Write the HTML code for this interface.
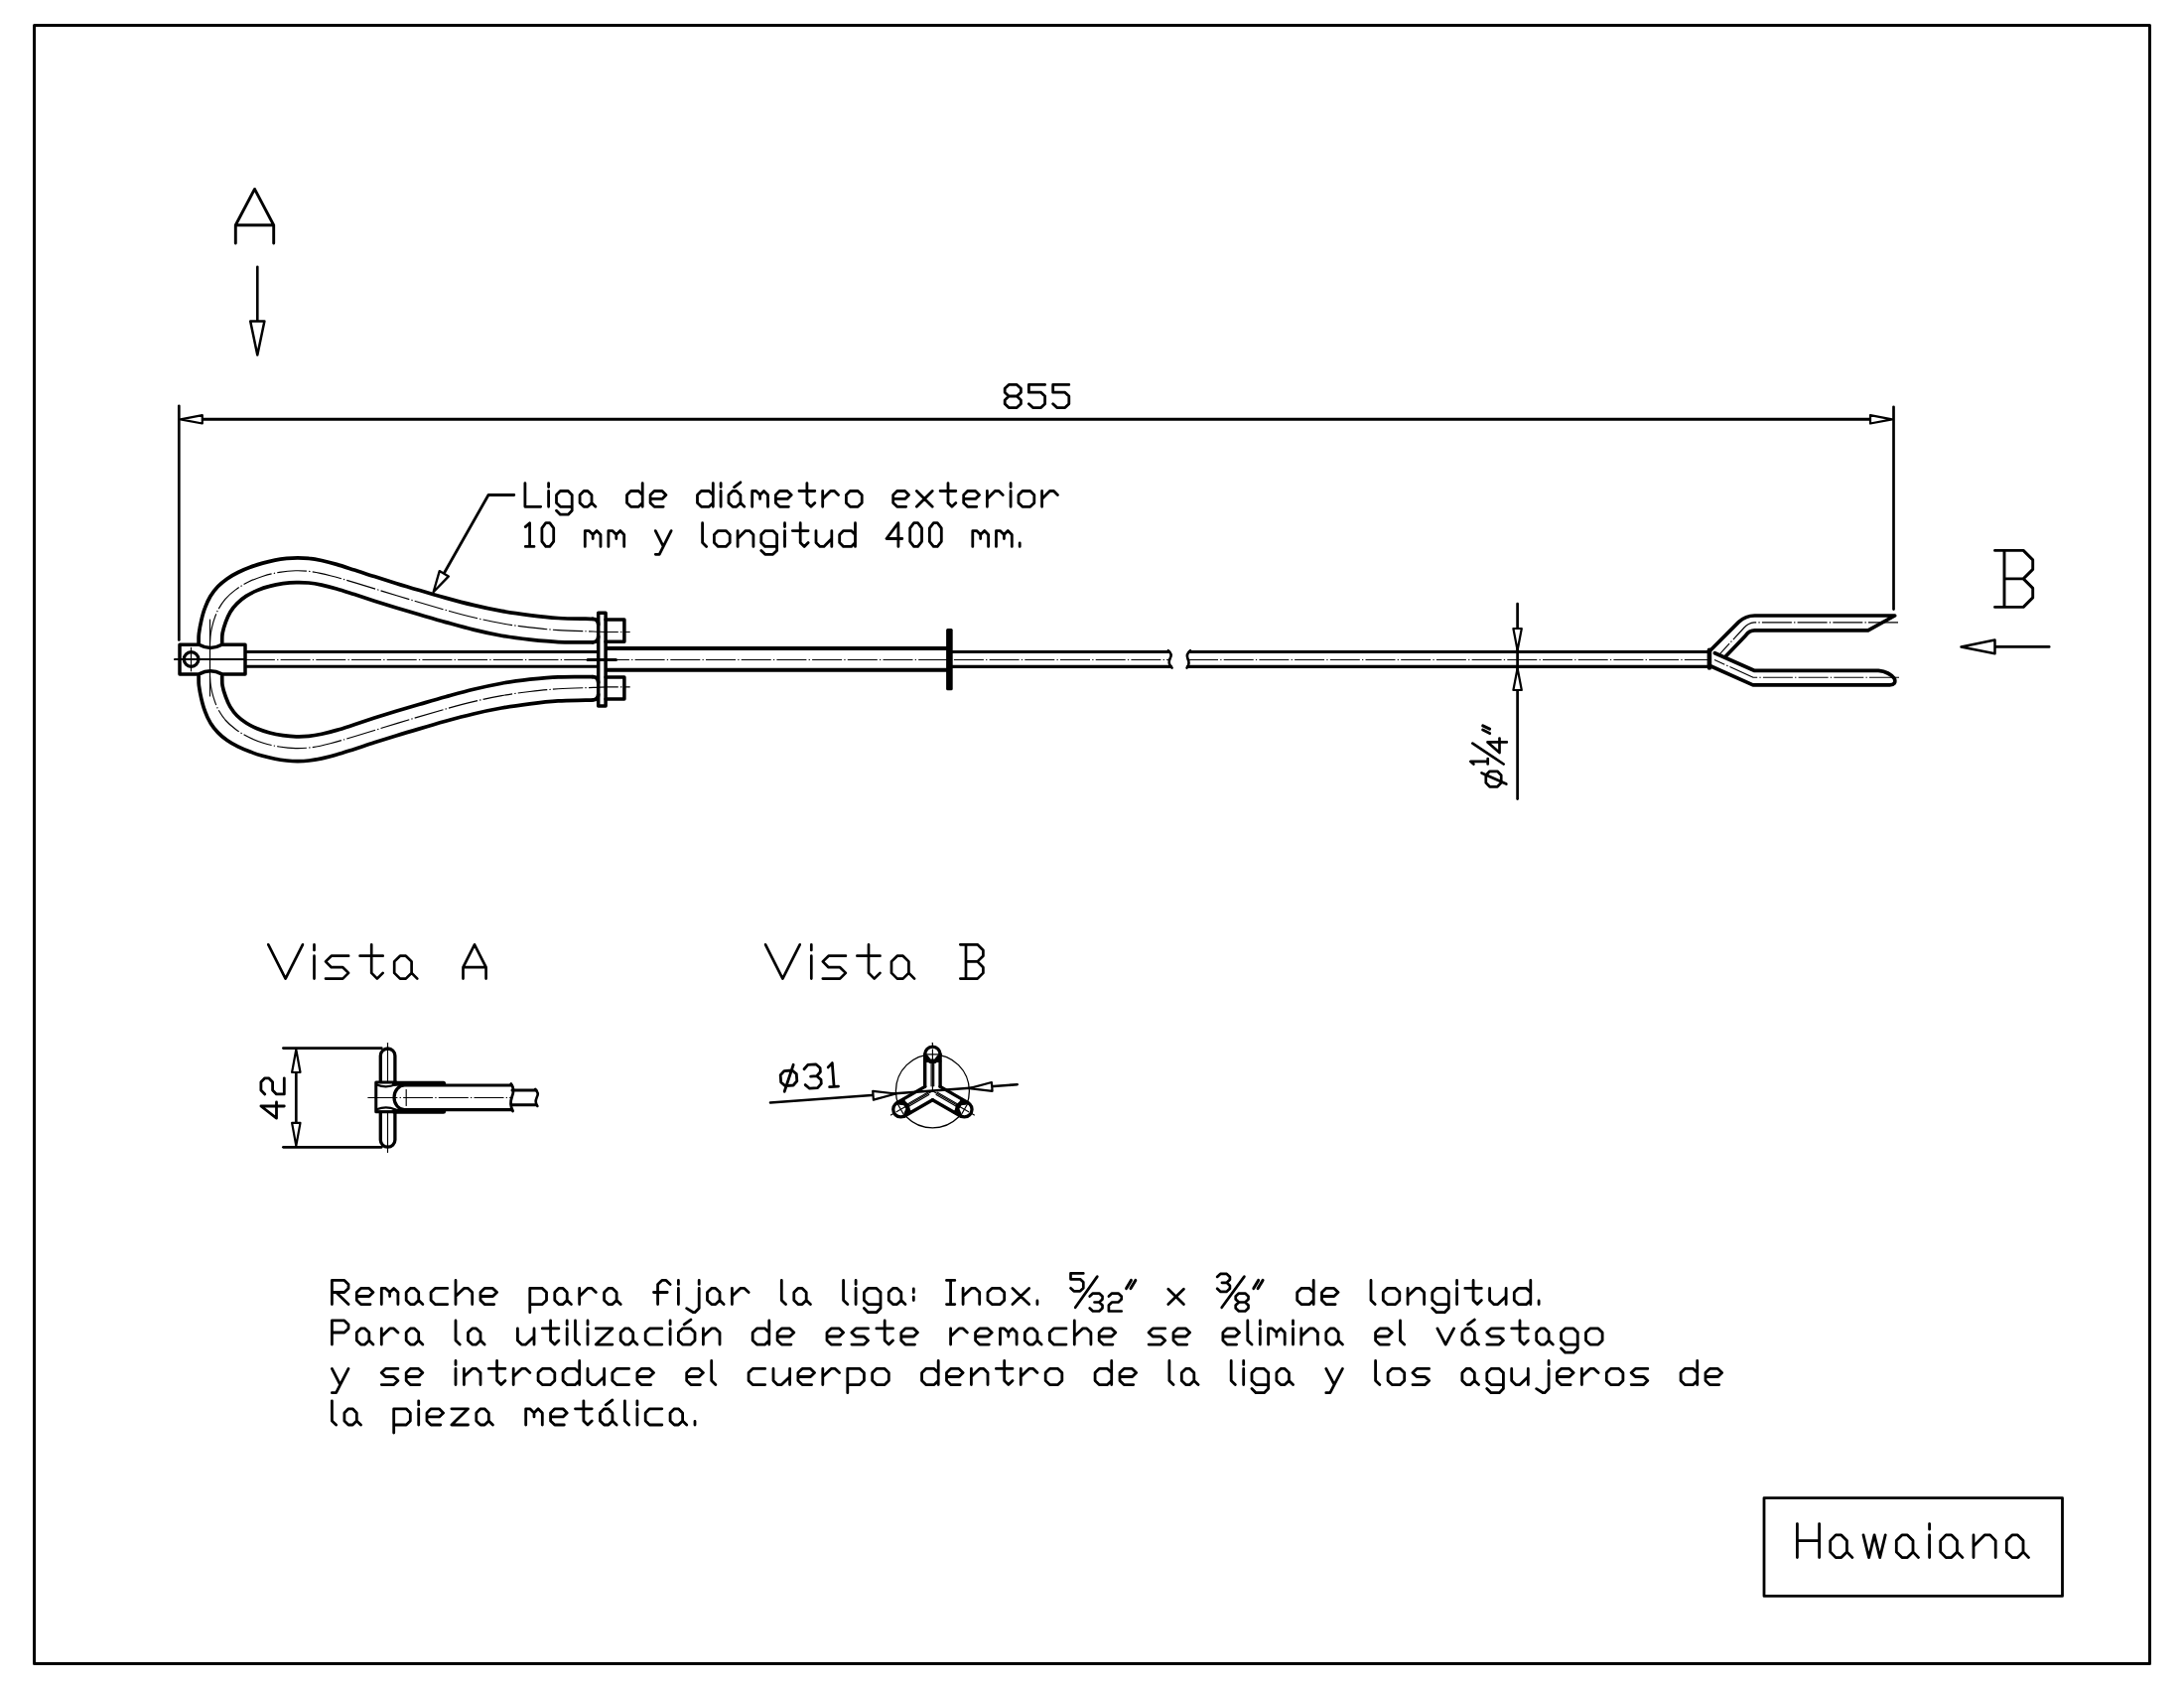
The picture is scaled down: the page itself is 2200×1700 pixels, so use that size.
<!DOCTYPE html>
<html><head><meta charset="utf-8"><title>Hawaiana</title>
<style>html,body{margin:0;padding:0;background:#fff;font-family:"Liberation Sans",sans-serif}svg{display:block}</style></head>
<body>
<svg width="2200" height="1700" viewBox="0 0 2200 1700" fill="none" stroke="#000" stroke-linecap="round" stroke-linejoin="round">
<rect x="34.5" y="25.5" width="2131" height="1650" stroke-width="3"/>
<rect x="1777" y="1508.6" width="300.5" height="98.8" stroke-width="2.8"/>
<path d="M1810.4 1568.6 L1810.4 1534.6M1832.6 1568.6 L1832.6 1534.6M1810.4 1551.6 L1832.6 1551.6M1849.2 1545.9 L1854.8 1545.9 L1860.4 1551.6 L1860.4 1562.9 L1854.8 1568.6 L1849.2 1568.6 L1843.7 1562.9 L1843.7 1551.6ZM1860.4 1562.9 L1865.9 1568.6M1877.0 1545.9 L1882.6 1568.6 L1888.1 1545.9 L1893.7 1568.6 L1899.2 1545.9M1915.9 1545.9 L1921.4 1545.9 L1927.0 1551.6 L1927.0 1562.9 L1921.4 1568.6 L1915.9 1568.6 L1910.3 1562.9 L1910.3 1551.6ZM1927.0 1562.9 L1932.5 1568.6M1943.6 1568.6 L1943.6 1545.9M1943.6 1540.2 L1943.6 1534.6M1960.2 1545.9 L1965.8 1545.9 L1971.4 1551.6 L1971.4 1562.9 L1965.8 1568.6 L1960.2 1568.6 L1954.7 1562.9 L1954.7 1551.6ZM1971.4 1562.9 L1976.9 1568.6M1988.0 1568.6 L1988.0 1545.9M1988.0 1557.3 L1999.1 1545.9 L2004.7 1545.9 L2010.2 1551.6 L2010.2 1568.6M2026.9 1545.9 L2032.4 1545.9 L2038.0 1551.6 L2038.0 1562.9 L2032.4 1568.6 L2026.9 1568.6 L2021.3 1562.9 L2021.3 1551.6ZM2038.0 1562.9 L2043.5 1568.6" stroke-width="2.80"/>
<path d="M237.3 245.0 L237.3 226.8 L256.5 190.4 L275.7 226.8 L275.7 245.0M237.3 226.8 L275.7 226.8" stroke-width="2.90"/>
<path d="M259.3 268.8 L259.3 323.0" stroke-width="2.60" />
<path d="M259.3 357.5 L252.2 323.5 L266.4 323.5 Z" stroke-width="2.50" fill="#fff"/>
<path d="M2009.5 554.4 L2038.2 554.4 L2047.7 563.9 L2047.7 573.4 L2038.2 582.9 L2047.7 592.4 L2047.7 601.9 L2038.2 611.4 L2009.5 611.4M2019.0 611.4 L2019.0 554.4M2019.0 582.9 L2038.2 582.9" stroke-width="2.90"/>
<path d="M2010.0 651.4 L2064.2 651.4" stroke-width="2.60" />
<path d="M1975.5 651.4 L2009.5 644.6 L2009.5 658.2 Z" stroke-width="2.50" fill="#fff"/>
<path d="M180.3 408.8 L180.3 644.5" stroke-width="2.70" />
<path d="M1907.5 409.8 L1907.5 613.6" stroke-width="2.70" />
<path d="M203.0 422.3 L1885.0 422.3" stroke-width="2.90" />
<path d="M181.8 422.3 L203.8 418.1 L203.8 426.5 Z" stroke-width="2.20" fill="#fff"/>
<path d="M1906.0 422.3 L1884.0 426.5 L1884.0 418.1 Z" stroke-width="2.20" fill="#fff"/>
<path d="M1016.2 399.0 L1012.2 395.2 L1012.2 391.3 L1016.2 387.4 L1024.3 387.4 L1028.4 391.3 L1028.4 395.2 L1024.3 399.0 L1016.2 399.0 L1012.2 402.9 L1012.2 406.7 L1016.2 410.6 L1024.3 410.6 L1028.4 406.7 L1028.4 402.9 L1024.3 399.0M1052.6 387.4 L1036.4 387.4 L1036.4 395.2 L1048.6 395.2 L1052.6 399.0 L1052.6 406.7 L1048.6 410.6 L1040.5 410.6 L1036.4 406.7M1076.8 387.4 L1060.7 387.4 L1060.7 395.2 L1072.8 395.2 L1076.8 399.0 L1076.8 406.7 L1072.8 410.6 L1064.7 410.6 L1060.7 406.7" stroke-width="2.80"/>
<path d="M517.8 498.5 L492 498.5 L445.5 580.5" stroke-width="2.80" />
<path d="M436.6 596.3 L442.7 575.1 L451.9 580.4 Z" stroke-width="2.30" fill="#fff"/>
<path d="M528.9 486.6 L528.9 510.3 L544.7 510.3M552.6 510.3 L552.6 494.5M552.6 490.6 L552.6 486.6M576.2 498.4 L572.3 494.5 L564.4 494.5 L560.5 498.4 L560.5 506.4 L564.4 510.3 L576.2 510.3M576.2 498.4 L576.2 514.2 L572.3 518.2 L564.4 518.2 L560.5 514.2M588.1 494.5 L592.0 494.5 L596.0 498.4 L596.0 506.4 L592.0 510.3 L588.1 510.3 L584.1 506.4 L584.1 498.4ZM596.0 506.4 L599.9 510.3M647.2 486.6 L647.2 510.3M647.2 506.4 L643.3 510.3 L635.4 510.3 L631.5 506.4 L631.5 498.4 L635.4 494.5 L643.3 494.5 L647.2 498.4M655.1 502.4 L667.0 502.4 L670.9 498.4 L667.0 494.5 L659.1 494.5 L655.1 498.4 L655.1 506.4 L659.1 510.3 L668.2 510.3M718.3 486.6 L718.3 510.3M718.3 506.4 L714.3 510.3 L706.4 510.3 L702.5 506.4 L702.5 498.4 L706.4 494.5 L714.3 494.5 L718.3 498.4M726.1 510.3 L726.1 494.5M726.1 490.6 L726.1 486.6M738.0 494.5 L741.9 494.5 L745.9 498.4 L745.9 506.4 L741.9 510.3 L738.0 510.3 L734.0 506.4 L734.0 498.4ZM745.9 506.4 L749.8 510.3M739.6 490.6 L745.9 485.8M757.7 510.3 L757.7 494.5 L761.7 494.5 L765.6 498.4 L765.6 502.4M765.6 498.4 L769.5 494.5 L773.5 498.4 L773.5 510.3M781.4 502.4 L793.2 502.4 L797.2 498.4 L793.2 494.5 L785.3 494.5 L781.4 498.4 L781.4 506.4 L785.3 510.3 L794.4 510.3M812.9 486.6 L812.9 506.4 L816.9 510.3 L820.8 506.4M805.0 494.5 L820.8 494.5M828.7 510.3 L828.7 494.5M828.7 502.4 L836.6 494.5 L840.6 494.5 L844.5 498.4M856.3 510.3 L864.2 510.3 L868.2 506.4 L868.2 498.4 L864.2 494.5 L856.3 494.5 L852.4 498.4 L852.4 506.4ZM899.7 502.4 L911.6 502.4 L915.5 498.4 L911.6 494.5 L903.7 494.5 L899.7 498.4 L899.7 506.4 L903.7 510.3 L912.7 510.3M923.4 510.3 L939.2 494.5M923.4 494.5 L939.2 510.3M955.0 486.6 L955.0 506.4 L958.9 510.3 L962.8 506.4M947.1 494.5 L962.8 494.5M970.7 502.4 L982.6 502.4 L986.5 498.4 L982.6 494.5 L974.7 494.5 L970.7 498.4 L970.7 506.4 L974.7 510.3 L983.8 510.3M994.4 510.3 L994.4 494.5M994.4 502.4 L1002.3 494.5 L1006.2 494.5 L1010.2 498.4M1018.1 510.3 L1018.1 494.5M1018.1 490.6 L1018.1 486.6M1029.9 510.3 L1037.8 510.3 L1041.8 506.4 L1041.8 498.4 L1037.8 494.5 L1029.9 494.5 L1026.0 498.4 L1026.0 506.4ZM1049.6 510.3 L1049.6 494.5M1049.6 502.4 L1057.5 494.5 L1061.5 494.5 L1065.4 498.4" stroke-width="2.80"/>
<path d="M529.3 530.6 L533.6 526.7 L533.6 550.4M529.3 550.4 L538.0 550.4M545.9 545.3 L545.9 531.8 L549.8 526.7 L553.8 526.7 L557.7 531.8 L557.7 545.3 L553.8 550.4 L549.8 550.4ZM589.3 550.4 L589.3 534.6 L593.2 534.6 L597.2 538.5 L597.2 542.5M597.2 538.5 L601.1 534.6 L605.0 538.5 L605.0 550.4M612.9 550.4 L612.9 534.6 L616.9 534.6 L620.8 538.5 L620.8 542.5M620.8 538.5 L624.8 534.6 L628.7 538.5 L628.7 550.4M660.3 534.6 L668.2 550.4M676.1 534.6 L664.2 558.3 L660.3 558.3M707.6 526.7 L707.6 546.4 L711.6 550.4M723.4 550.4 L731.3 550.4 L735.2 546.4 L735.2 538.5 L731.3 534.6 L723.4 534.6 L719.4 538.5 L719.4 546.4ZM743.1 550.4 L743.1 534.6M743.1 542.5 L751.0 534.6 L755.0 534.6 L758.9 538.5 L758.9 550.4M782.6 538.5 L778.6 534.6 L770.7 534.6 L766.8 538.5 L766.8 546.4 L770.7 550.4 L782.6 550.4M782.6 538.5 L782.6 554.4 L778.6 558.3 L770.7 558.3 L766.8 554.4M790.5 550.4 L790.5 534.6M790.5 530.6 L790.5 526.7M806.2 526.7 L806.2 546.4 L810.2 550.4 L814.1 546.4M798.3 534.6 L814.1 534.6M822.0 534.6 L822.0 546.4 L826.0 550.4 L829.9 550.4 L837.8 542.5M837.8 534.6 L837.8 550.4M861.5 526.7 L861.5 550.4M861.5 546.4 L857.5 550.4 L849.6 550.4 L845.7 546.4 L845.7 538.5 L849.6 534.6 L857.5 534.6 L861.5 538.5M904.9 550.4 L904.9 526.7 L893.0 542.5 L908.8 542.5M916.7 545.3 L916.7 531.8 L920.6 526.7 L924.6 526.7 L928.5 531.8 L928.5 545.3 L924.6 550.4 L920.6 550.4ZM936.4 545.3 L936.4 531.8 L940.4 526.7 L944.3 526.7 L948.3 531.8 L948.3 545.3 L944.3 550.4 L940.4 550.4ZM979.8 550.4 L979.8 534.6 L983.8 534.6 L987.7 538.5 L987.7 542.5M987.7 538.5 L991.7 534.6 L995.6 538.5 L995.6 550.4M1003.5 550.4 L1003.5 534.6 L1007.4 534.6 L1011.4 538.5 L1011.4 542.5M1011.4 538.5 L1015.3 534.6 L1019.3 538.5 L1019.3 550.4M1027.2 550.4 L1027.2 546.8" stroke-width="2.80"/>
<path d="M175.5 664.5 L1178.0 664.5" stroke-width="1.15" stroke-dasharray="30 2.2 1.3 2.2" stroke-linecap="butt"/>
<path d="M1197.0 664.5 L1722.0 664.5" stroke-width="1.15" stroke-dasharray="30 2.2 1.3 2.2" stroke-linecap="butt"/>
<path d="M181 649.2 L200.5 649.2 Q212 655.6 223.5 649.2 L247 649.2 L247 678.9 L223.5 678.9 Q212 672.5 200.5 678.9 L181 678.9 Z" stroke-width="3.50" />
<circle cx="192.6" cy="664.0" r="7.3" stroke-width="3.3"/>
<path d="M192.5 652.4 L192.5 675.8" stroke-width="1.15" />
<path d="M176.0 664.0 L247.0 664.0" stroke-width="2.00" />
<path d="M211.5 624.0 L211.5 701.0" stroke-width="1.15" />
<path d="M248.9 656.5 L602.7 656.5" stroke-width="3.10" />
<path d="M248.9 671.3 L602.7 671.3" stroke-width="3.10" />
<path d="M610.1 653.0 L953.5 653.0" stroke-width="3.90" />
<path d="M610.1 674.8 L953.5 674.8" stroke-width="3.90" />
<rect x="953.1" y="633" width="6.6" height="62.3" rx="1.5" fill="#000" stroke="none"/>
<path d="M959.5 656.5 L1177.5 656.5" stroke-width="3.10" />
<path d="M959.5 671.4 L1179.5 671.4" stroke-width="3.10" />
<path d="M1198.5 656.5 L1722.0 656.5" stroke-width="3.10" />
<path d="M1196.5 671.4 L1722.0 671.4" stroke-width="3.10" />
<path d="M1176.8 655.2 Q1181.5 658.5 1178.5 663.5 Q1176 668 1180.6 672.6" stroke-width="2.60" />
<path d="M1199 655.2 Q1194.5 658.5 1196.5 663.5 Q1199 668 1195.6 672.6" stroke-width="2.60" />
<rect x="602.7" y="617.2" width="7.4" height="93.7" stroke-width="3.5" fill="#fff"/>
<path d="M610.1 624.0 L628.9 624.0 L628.9 646.2 L610.1 646.2" stroke-width="3.50" />
<path d="M610.1 681.9 L628.9 681.9 L628.9 703.9 L610.1 703.9" stroke-width="3.50" />
<path d="M592.0 664.5 L620.5 664.5" stroke-width="3.00" />
<path d="M200.1 647.4 C200.2 645.8 199.9 641.7 200.4 637.9 C200.9 634.1 201.8 629.1 202.8 624.8 C203.8 620.5 204.9 616.1 206.5 612.1 C208.0 608.0 209.8 604.1 211.9 600.5 C214.1 597.0 216.6 593.7 219.4 590.8 C222.2 587.8 225.3 585.3 228.7 582.9 C232.1 580.5 235.9 578.4 239.7 576.5 C243.6 574.6 247.8 572.8 251.9 571.3 C256.1 569.7 260.4 568.3 264.6 567.1 C268.8 565.9 273.1 564.9 277.1 564.1 C281.1 563.3 285.0 562.8 288.8 562.4 C292.6 562.0 296.2 561.8 299.9 561.8 C303.6 561.8 307.2 561.9 311.2 562.4 C315.3 562.8 319.3 563.5 324.0 564.5 C328.6 565.5 333.6 566.8 339.1 568.4 C344.5 570.0 350.6 572.0 356.9 574.0 C363.2 576.0 370.1 578.4 377.1 580.6 C384.1 582.8 391.4 585.1 398.9 587.4 C406.5 589.8 414.3 592.1 422.7 594.5 C431.0 597.0 439.8 599.6 448.9 602.1 C457.9 604.6 467.5 607.2 476.9 609.4 C486.3 611.7 495.8 613.7 505.3 615.4 C514.8 617.1 524.3 618.4 533.7 619.6 C543.2 620.8 552.8 621.9 562.2 622.5 C571.6 623.1 584.2 623.1 590.0 623.2 C595.8 623.4 595.8 623.4 597.0 623.4" stroke-width="3.70" />
<path d="M200.1 681.0 C200.2 682.6 199.9 686.7 200.4 690.5 C200.9 694.3 201.8 699.3 202.8 703.6 C203.8 707.9 204.9 712.3 206.5 716.3 C208.0 720.4 209.8 724.3 211.9 727.9 C214.1 731.4 216.6 734.7 219.4 737.6 C222.2 740.6 225.3 743.1 228.7 745.5 C232.1 747.9 235.9 750.0 239.7 751.9 C243.6 753.8 247.8 755.6 251.9 757.1 C256.1 758.7 260.4 760.1 264.6 761.3 C268.8 762.5 273.1 763.5 277.1 764.3 C281.1 765.1 285.0 765.6 288.8 766.0 C292.6 766.4 296.2 766.6 299.9 766.6 C303.6 766.6 307.2 766.5 311.2 766.0 C315.3 765.6 319.3 764.9 324.0 763.9 C328.6 762.9 333.6 761.6 339.1 760.0 C344.5 758.4 350.6 756.4 356.9 754.4 C363.2 752.4 370.1 750.0 377.1 747.8 C384.1 745.6 391.4 743.3 398.9 741.0 C406.5 738.6 414.3 736.3 422.7 733.9 C431.0 731.4 439.8 728.8 448.9 726.3 C457.9 723.8 467.5 721.2 476.9 719.0 C486.3 716.7 495.8 714.7 505.3 713.0 C514.8 711.3 524.3 710.0 533.7 708.8 C543.2 707.6 552.8 706.5 562.2 705.9 C571.6 705.3 584.2 705.4 590.0 705.2 C595.8 705.1 595.8 705.0 597.0 705.0" stroke-width="3.70" />
<path d="M223.7 647.4 C223.8 645.8 223.5 641.4 224.1 637.9 C224.7 634.4 226.0 630.3 227.3 626.7 C228.6 623.1 230.0 619.7 231.9 616.5 C233.8 613.4 236.0 610.4 238.7 607.8 C241.4 605.1 244.5 602.6 247.9 600.4 C251.3 598.2 255.1 596.3 259.0 594.6 C262.9 593.0 267.2 591.5 271.6 590.4 C275.9 589.2 280.6 588.3 285.0 587.7 C289.5 587.1 294.1 586.7 298.4 586.6 C302.7 586.5 306.7 586.6 311.0 587.0 C315.2 587.4 319.3 588.1 324.0 589.1 C328.6 590.1 333.6 591.4 339.1 593.0 C344.5 594.6 350.6 596.6 356.9 598.6 C363.2 600.7 370.1 603.0 377.1 605.3 C384.1 607.5 391.4 609.8 398.9 612.1 C406.5 614.4 414.3 616.7 422.7 619.1 C431.0 621.5 439.8 624.1 448.9 626.6 C457.9 629.1 467.5 631.9 476.9 634.1 C486.3 636.4 495.8 638.5 505.3 640.2 C514.8 641.9 524.3 643.1 533.7 644.2 C543.2 645.2 552.8 646.2 562.2 646.6 C571.6 647.0 584.2 646.8 590.0 646.8 C595.8 646.8 595.8 646.8 597.0 646.8" stroke-width="3.70" />
<path d="M223.7 681.0 C223.8 682.6 223.5 687.0 224.1 690.5 C224.7 694.0 226.0 698.1 227.3 701.7 C228.6 705.3 230.0 708.7 231.9 711.9 C233.8 715.0 236.0 718.0 238.7 720.7 C241.4 723.3 244.5 725.8 247.9 728.0 C251.3 730.2 255.1 732.1 259.0 733.8 C262.9 735.4 267.2 736.9 271.6 738.0 C275.9 739.2 280.6 740.1 285.0 740.7 C289.5 741.3 294.1 741.7 298.4 741.8 C302.7 741.9 306.7 741.8 311.0 741.4 C315.2 741.0 319.3 740.3 324.0 739.3 C328.6 738.3 333.6 737.0 339.1 735.4 C344.5 733.8 350.6 731.8 356.9 729.8 C363.2 727.7 370.1 725.4 377.1 723.1 C384.1 720.9 391.4 718.6 398.9 716.3 C406.5 714.0 414.3 711.7 422.7 709.3 C431.0 706.9 439.8 704.3 448.9 701.8 C457.9 699.3 467.5 696.5 476.9 694.3 C486.3 692.0 495.8 689.9 505.3 688.2 C514.8 686.5 524.3 685.3 533.7 684.2 C543.2 683.2 552.8 682.2 562.2 681.8 C571.6 681.4 584.2 681.6 590.0 681.6 C595.8 681.6 595.8 681.6 597.0 681.6" stroke-width="3.70" />
<path d="M597 623.4 Q602.5 623.6 602.7 629" stroke-width="3.70" />
<path d="M597 646.8 Q602.5 646.6 602.7 641" stroke-width="3.70" />
<path d="M597 705.0 Q602.5 704.8 602.7 699.4" stroke-width="3.70" />
<path d="M597 681.6 Q602.5 681.8 602.7 687.4" stroke-width="3.70" />
<path d="M211.5 647.4 C211.6 645.8 211.7 641.4 212.3 637.9 C212.9 634.4 213.8 630.1 215.0 626.2 C216.2 622.3 217.5 618.3 219.5 614.5 C221.5 610.7 224.0 606.9 226.9 603.4 C229.9 600.0 233.5 596.8 237.4 593.9 C241.3 591.0 245.7 588.4 250.3 586.1 C254.9 583.8 259.9 581.8 265.1 580.2 C270.3 578.6 275.9 577.3 281.3 576.4 C286.8 575.5 292.3 574.9 297.8 574.8 C303.2 574.7 308.1 574.9 313.9 575.7 C319.7 576.5 325.4 577.8 332.7 579.7 C340.0 581.5 348.5 584.1 357.7 586.9 C366.8 589.6 377.5 593.0 387.6 596.1 C397.8 599.2 408.4 602.5 418.5 605.5 C428.6 608.5 438.5 611.4 448.2 614.2 C457.9 616.9 467.4 619.5 476.9 621.8 C486.4 624.1 495.8 626.1 505.3 627.8 C514.8 629.5 524.3 630.8 533.7 631.9 C543.2 633.0 551.5 633.9 562.2 634.6 C572.9 635.3 589.7 635.7 598.0 636.0 C606.3 636.3 605.9 636.4 612.0 636.5 C618.1 636.6 630.9 636.5 634.7 636.5" stroke-width="1.15" stroke-dasharray="30 2.2 1.3 2.2" stroke-linecap="butt"/>
<path d="M211.5 681.0 C211.6 682.6 211.7 687.0 212.3 690.5 C212.9 694.0 213.8 698.3 215.0 702.2 C216.2 706.1 217.5 710.1 219.5 713.9 C221.5 717.7 224.0 721.5 226.9 725.0 C229.9 728.4 233.5 731.6 237.4 734.5 C241.3 737.4 245.7 740.0 250.3 742.3 C254.9 744.6 259.9 746.6 265.1 748.2 C270.3 749.8 275.9 751.1 281.3 752.0 C286.8 752.9 292.3 753.5 297.8 753.6 C303.2 753.7 308.1 753.5 313.9 752.7 C319.7 751.9 325.4 750.6 332.7 748.7 C340.0 746.9 348.5 744.3 357.7 741.5 C366.8 738.8 377.5 735.4 387.6 732.3 C397.8 729.2 408.4 725.9 418.5 722.9 C428.6 719.9 438.5 717.0 448.2 714.2 C457.9 711.5 467.4 708.9 476.9 706.6 C486.4 704.3 495.8 702.3 505.3 700.6 C514.8 698.9 524.3 697.6 533.7 696.5 C543.2 695.4 551.5 694.5 562.2 693.8 C572.9 693.1 589.7 692.7 598.0 692.4 C606.3 692.1 605.9 692.0 612.0 691.9 C618.1 691.8 630.9 691.9 634.7 691.9" stroke-width="1.15" stroke-dasharray="30 2.2 1.3 2.2" stroke-linecap="butt"/>
<path d="M1528.6 608.0 L1528.6 804.6" stroke-width="2.70" />
<path d="M1528.6 655.0 L1524.4 633.0 L1532.8 633.0 Z" stroke-width="2.20" fill="#fff"/>
<path d="M1528.6 673.0 L1532.8 695.0 L1524.4 695.0 Z" stroke-width="2.20" fill="#fff"/>
<path d="M1721.9 656.0 L1751.5 626.4 Q1758.5 620 1767.5 620 L1908.7 620 L1881.8 634.9 L1767.5 634.9 Q1762 635 1758.5 640 L1738.4 661.0" stroke-width="3.70" />
<path d="M1727.4 657.7 L1766.9 675.3 L1892.2 675.3 Q1903 676.5 1908.3 683.3 Q1910.5 689.5 1903.5 689.9 L1765.8 689.9 L1721.9 670.3" stroke-width="3.70" />
<path d="M1721.9 654.8 L1721.9 672.4" stroke-width="4.60" />
<path d="M1912 626.9 L1767 626.9 Q1761 627.5 1757 632 L1731.8 659.3" stroke-width="1.15" stroke-dasharray="30 2.2 1.3 2.2" stroke-linecap="butt"/>
<path d="M1913 682.2 L1766 682.2 L1727 664.6" stroke-width="1.15" stroke-dasharray="30 2.2 1.3 2.2" stroke-linecap="butt"/>
<path d="M270.3 951.3 L287.6 985.6 L304.9 951.3M316.5 985.6 L316.5 962.7M316.5 957.0 L316.5 951.3M351.1 962.7 L333.8 962.7 L328.0 968.4 L333.8 974.2 L345.3 974.2 L351.1 979.9 L345.3 985.6 L328.0 985.6M374.2 951.3 L374.2 979.9 L379.9 985.6 L385.7 979.9M362.6 962.7 L385.7 962.7M403.0 962.7 L408.8 962.7 L414.6 968.4 L414.6 979.9 L408.8 985.6 L403.0 985.6 L397.2 979.9 L397.2 968.4ZM414.6 979.9 L420.3 985.6M466.5 985.6 L466.5 974.2 L478.0 951.3 L489.6 974.2 L489.6 985.6M466.5 974.2 L489.6 974.2" stroke-width="2.70"/>
<path d="M285.4 1055.6 L384.3 1055.6" stroke-width="2.70" />
<path d="M285.4 1155.3 L384.3 1155.3" stroke-width="2.70" />
<path d="M298.3 1078.0 L298.3 1133.0" stroke-width="2.70" />
<path d="M298.3 1057.0 L302.5 1080.0 L294.1 1080.0 Z" stroke-width="2.20" fill="#fff"/>
<path d="M298.3 1153.9 L294.1 1130.9 L302.5 1130.9 Z" stroke-width="2.20" fill="#fff"/>
<path d="M286.3 1114.0 L262.9 1114.0 L278.5 1126.1 L278.5 1110.0M266.8 1101.9 L262.9 1097.9 L262.9 1089.8 L266.8 1085.8 L270.7 1085.8 L274.6 1089.8 L274.6 1097.9 L278.5 1101.9 L286.3 1101.9 L286.3 1085.8" stroke-width="2.80"/>
<rect x="383.3" y="1056.0" width="14.6" height="99.2" rx="7.3" stroke-width="3.3"/>
<path d="M390.5 1050.5 L390.5 1160.4" stroke-width="1.15" />
<path d="M399 1090.1 L378.9 1090.1 L378.9 1119.7 L399 1119.7" stroke-width="3.3" fill="#fff"/>
<rect x="380.5" y="1091.7" width="22" height="26.4" fill="#fff" stroke="none"/>
<path d="M379.5 1092.5 Q389 1096.3 398.5 1092.3" stroke-width="2.20" />
<path d="M379.5 1117.3 Q389 1113.5 398.5 1117.5" stroke-width="2.20" />
<path d="M397.5 1091.3 L446.6 1091.3" stroke-width="5.00" />
<path d="M397.5 1119.2 L446.6 1119.2" stroke-width="5.00" />
<path d="M515.5 1093 L407.5 1093 A10.5 12.3 0 0 0 407.5 1117.6 L515.5 1117.6" stroke-width="3.20" />
<path d="M514.8 1091.6 Q519 1097 515.6 1105 Q513 1112 516.6 1119" stroke-width="2.80" />
<path d="M516.0 1098.1 L540.0 1098.1" stroke-width="3.00" />
<path d="M516.0 1112.8 L540.0 1112.8" stroke-width="3.00" />
<path d="M539.2 1097 Q543.5 1101 540.6 1105.5 Q538.5 1110 541.4 1114" stroke-width="2.60" />
<path d="M370.4 1105.5 L516.0 1105.5" stroke-width="1.15" stroke-dasharray="30 2.2 1.3 2.2" stroke-linecap="butt"/>
<path d="M409.2 1097.5 L409.2 1113.5" stroke-width="1.15" />
<path d="M771.1 951.3 L788.4 985.6 L805.7 951.3M817.3 985.6 L817.3 962.7M817.3 957.0 L817.3 951.3M851.9 962.7 L834.6 962.7 L828.8 968.4 L834.6 974.2 L846.1 974.2 L851.9 979.9 L846.1 985.6 L828.8 985.6M875.0 951.3 L875.0 979.9 L880.7 985.6 L886.5 979.9M863.4 962.7 L886.5 962.7M903.8 962.7 L909.6 962.7 L915.4 968.4 L915.4 979.9 L909.6 985.6 L903.8 985.6 L898.0 979.9 L898.0 968.4ZM915.4 979.9 L921.1 985.6M967.3 951.3 L984.6 951.3 L990.4 957.0 L990.4 962.7 L984.6 968.4 L990.4 974.2 L990.4 979.9 L984.6 985.6 L967.3 985.6M973.0 985.6 L973.0 951.3M973.0 968.4 L984.6 968.4" stroke-width="2.70"/>
<circle cx="939.4" cy="1098.8" r="37.0" stroke-width="1.30"/>
<path d="M939.4 1098.8 L939.4 1050.3" stroke-width="1.15" />
<circle cx="939.4" cy="1061.8" r="7.65" stroke-width="3.3" fill="#fff"/>
<path d="M947.1 1094.4 L947.1 1061.8" stroke-width="3.40" />
<path d="M940.7 1093.8 L940.7 1068.8" stroke-width="1.20" />
<path d="M931.7 1094.4 L931.7 1061.8" stroke-width="3.40" />
<path d="M938.1 1093.8 L938.1 1068.8" stroke-width="1.20" />
<path d="M947.1 1068.7 L931.7 1068.7" stroke-width="2.60" />
<path d="M945.0 1063.6 L942.0 1067.6 L936.8 1067.6 L933.8 1063.6" stroke-width="2.40" />
<path d="M939.4 1069.3 L939.4 1056.8" stroke-width="1.15" />
<path d="M945.4 1061.8 L933.4 1061.8" stroke-width="1.15" />
<path d="M939.4 1098.8 L897.4 1123.0" stroke-width="1.15" />
<circle cx="907.4" cy="1117.3" r="7.65" stroke-width="3.3" fill="#fff"/>
<path d="M931.7 1094.4 L903.5 1110.6" stroke-width="3.40" />
<path d="M934.4 1100.2 L912.8 1112.7" stroke-width="1.20" />
<path d="M939.4 1107.7 L911.2 1124.0" stroke-width="3.40" />
<path d="M935.7 1102.4 L914.1 1114.9" stroke-width="1.20" />
<path d="M909.5 1107.2 L917.2 1120.5" stroke-width="2.60" />
<path d="M906.1 1111.6 L911.1 1112.1 L913.7 1116.7 L911.7 1121.2" stroke-width="2.40" />
<path d="M913.9 1113.5 L903.0 1119.8" stroke-width="1.15" />
<path d="M904.4 1112.1 L910.4 1122.5" stroke-width="1.15" />
<path d="M939.4 1098.8 L981.4 1123.0" stroke-width="1.15" />
<circle cx="971.4" cy="1117.3" r="7.65" stroke-width="3.3" fill="#fff"/>
<path d="M939.4 1107.7 L967.6 1124.0" stroke-width="3.40" />
<path d="M943.1 1102.4 L964.7 1114.9" stroke-width="1.20" />
<path d="M947.1 1094.4 L975.3 1110.6" stroke-width="3.40" />
<path d="M944.4 1100.2 L966.0 1112.7" stroke-width="1.20" />
<path d="M961.6 1120.5 L969.3 1107.2" stroke-width="2.60" />
<path d="M967.1 1121.2 L965.1 1116.7 L967.7 1112.1 L972.7 1111.6" stroke-width="2.40" />
<path d="M964.9 1113.5 L975.8 1119.8" stroke-width="1.15" />
<path d="M968.4 1122.5 L974.4 1112.1" stroke-width="1.15" />
<path d="M776.0 1110.5 L1024.7 1092.2" stroke-width="2.60" />
<path d="M902.5 1101.5 L879.9 1107.6 L879.2 1098.8 Z" stroke-width="2.20" fill="#fff"/>
<path d="M976.3 1096.1 L998.9 1090.0 L999.6 1098.8 Z" stroke-width="2.20" fill="#fff"/>
<path d="M791.0 1093.6 L799.1 1093.0 L802.8 1088.8 L802.3 1081.6 L798.0 1078.0 L789.9 1078.6 L786.2 1082.8 L786.7 1090.0ZM790.2 1099.3 L799.2 1072.3M810.0 1076.7 L813.8 1072.4 L821.8 1071.8 L826.1 1075.5 L826.4 1079.5 L822.7 1083.7 L816.6 1084.2M822.7 1083.7 L827.0 1087.4 L827.3 1091.4 L823.6 1095.6 L815.5 1096.2 L811.2 1092.6M834.2 1074.9 L838.3 1070.6 L840.1 1094.4M835.6 1094.7 L844.5 1094.1" stroke-width="2.80"/>
<path d="M334.4 1313.6 L334.4 1289.4 L346.9 1289.4 L351.0 1293.4 L351.0 1297.4 L346.9 1301.5 L334.4 1301.5M338.6 1301.5 L351.0 1313.6M359.3 1305.5 L371.8 1305.5 L375.9 1301.5 L371.8 1297.4 L363.5 1297.4 L359.3 1301.5 L359.3 1309.6 L363.5 1313.6 L373.0 1313.6M384.3 1313.6 L384.3 1297.4 L388.4 1297.4 L392.6 1301.5 L392.6 1305.5M392.6 1301.5 L396.7 1297.4 L400.9 1301.5 L400.9 1313.6M413.3 1297.4 L417.5 1297.4 L421.7 1301.5 L421.7 1309.6 L417.5 1313.6 L413.3 1313.6 L409.2 1309.6 L409.2 1301.5ZM421.7 1309.6 L425.8 1313.6M450.7 1297.4 L438.3 1297.4 L434.1 1301.5 L434.1 1309.6 L438.3 1313.6 L450.7 1313.6M459.0 1313.6 L459.0 1289.4M459.0 1305.5 L467.4 1297.4 L471.5 1297.4 L475.7 1301.5 L475.7 1313.6M484.0 1305.5 L496.4 1305.5 L500.6 1301.5 L496.4 1297.4 L488.1 1297.4 L484.0 1301.5 L484.0 1309.6 L488.1 1313.6 L497.7 1313.6M533.8 1321.7 L533.8 1297.4 L546.3 1297.4 L550.5 1301.5 L550.5 1309.6 L546.3 1313.6 L533.8 1313.6M562.9 1297.4 L567.1 1297.4 L571.2 1301.5 L571.2 1309.6 L567.1 1313.6 L562.9 1313.6 L558.8 1309.6 L558.8 1301.5ZM571.2 1309.6 L575.4 1313.6M583.7 1313.6 L583.7 1297.4M583.7 1305.5 L592.0 1297.4 L596.2 1297.4 L600.3 1301.5M612.8 1297.4 L616.9 1297.4 L621.1 1301.5 L621.1 1309.6 L616.9 1313.6 L612.8 1313.6 L608.6 1309.6 L608.6 1301.5ZM621.1 1309.6 L625.2 1313.6M662.6 1313.6 L662.6 1293.4 L666.8 1289.4 L671.0 1289.4 L675.1 1293.4M658.5 1301.5 L672.2 1301.5M683.4 1313.6 L683.4 1297.4M683.4 1293.4 L683.4 1289.4M704.2 1297.4 L704.2 1317.6 L700.0 1321.7 L698.4 1321.7 L691.7 1317.6M704.2 1293.4 L704.2 1289.4M716.7 1297.4 L720.8 1297.4 L725.0 1301.5 L725.0 1309.6 L720.8 1313.6 L716.7 1313.6 L712.5 1309.6 L712.5 1301.5ZM725.0 1309.6 L729.1 1313.6M737.4 1313.6 L737.4 1297.4M737.4 1305.5 L745.7 1297.4 L749.9 1297.4 L754.1 1301.5M787.3 1289.4 L787.3 1309.6 L791.5 1313.6M803.9 1297.4 L808.1 1297.4 L812.2 1301.5 L812.2 1309.6 L808.1 1313.6 L803.9 1313.6 L799.8 1309.6 L799.8 1301.5ZM812.2 1309.6 L816.4 1313.6M849.6 1289.4 L849.6 1309.6 L853.8 1313.6M862.1 1313.6 L862.1 1297.4M862.1 1293.4 L862.1 1289.4M887.0 1301.5 L882.9 1297.4 L874.5 1297.4 L870.4 1301.5 L870.4 1309.6 L874.5 1313.6 L887.0 1313.6M887.0 1301.5 L887.0 1317.6 L882.9 1321.7 L874.5 1321.7 L870.4 1317.6M899.5 1297.4 L903.6 1297.4 L907.8 1301.5 L907.8 1309.6 L903.6 1313.6 L899.5 1313.6 L895.3 1309.6 L895.3 1301.5ZM907.8 1309.6 L911.9 1313.6M920.3 1309.6 L920.3 1306.1M920.3 1301.5 L920.3 1298.0M953.5 1289.4 L961.8 1289.4M957.6 1289.4 L957.6 1313.6M953.5 1313.6 L961.8 1313.6M970.1 1313.6 L970.1 1297.4M970.1 1305.5 L978.4 1297.4 L982.6 1297.4 L986.7 1301.5 L986.7 1313.6M999.2 1313.6 L1007.5 1313.6 L1011.7 1309.6 L1011.7 1301.5 L1007.5 1297.4 L999.2 1297.4 L995.0 1301.5 L995.0 1309.6ZM1020.0 1313.6 L1036.6 1297.4M1020.0 1297.4 L1036.6 1313.6M1044.9 1313.6 L1044.9 1310.0" stroke-width="2.80"/>
<path d="M1323.2 1289.4 L1323.2 1313.6M1323.2 1309.6 L1319.1 1313.6 L1310.8 1313.6 L1306.7 1309.6 L1306.7 1301.5 L1310.8 1297.4 L1319.1 1297.4 L1323.2 1301.5M1331.5 1305.5 L1343.8 1305.5 L1348.0 1301.5 L1343.8 1297.4 L1335.6 1297.4 L1331.5 1301.5 L1331.5 1309.6 L1335.6 1313.6 L1345.1 1313.6M1381.0 1289.4 L1381.0 1309.6 L1385.1 1313.6M1397.5 1313.6 L1405.7 1313.6 L1409.8 1309.6 L1409.8 1301.5 L1405.7 1297.4 L1397.5 1297.4 L1393.3 1301.5 L1393.3 1309.6ZM1418.1 1313.6 L1418.1 1297.4M1418.1 1305.5 L1426.3 1297.4 L1430.5 1297.4 L1434.6 1301.5 L1434.6 1313.6M1459.3 1301.5 L1455.2 1297.4 L1447.0 1297.4 L1442.8 1301.5 L1442.8 1309.6 L1447.0 1313.6 L1459.3 1313.6M1459.3 1301.5 L1459.3 1317.6 L1455.2 1321.7 L1447.0 1321.7 L1442.8 1317.6M1467.6 1313.6 L1467.6 1297.4M1467.6 1293.4 L1467.6 1289.4M1484.1 1289.4 L1484.1 1309.6 L1488.2 1313.6 L1492.3 1309.6M1475.8 1297.4 L1492.3 1297.4M1500.6 1297.4 L1500.6 1309.6 L1504.7 1313.6 L1508.8 1313.6 L1517.1 1305.5M1517.1 1297.4 L1517.1 1313.6M1541.8 1289.4 L1541.8 1313.6M1541.8 1309.6 L1537.7 1313.6 L1529.5 1313.6 L1525.3 1309.6 L1525.3 1301.5 L1529.5 1297.4 L1537.7 1297.4 L1541.8 1301.5M1550.1 1313.6 L1550.1 1310.0" stroke-width="2.80"/>
<path d="M334.4 1354.1 L334.4 1329.9 L346.9 1329.9 L351.0 1333.9 L351.0 1337.9 L346.9 1342.0 L334.4 1342.0M363.5 1337.9 L367.6 1337.9 L371.8 1342.0 L371.8 1350.1 L367.6 1354.1 L363.5 1354.1 L359.3 1350.1 L359.3 1342.0ZM371.8 1350.1 L375.9 1354.1M384.3 1354.1 L384.3 1337.9M384.3 1346.0 L392.6 1337.9 L396.7 1337.9 L400.9 1342.0M413.3 1337.9 L417.5 1337.9 L421.7 1342.0 L421.7 1350.1 L417.5 1354.1 L413.3 1354.1 L409.2 1350.1 L409.2 1342.0ZM421.7 1350.1 L425.8 1354.1M459.0 1329.9 L459.0 1350.1 L463.2 1354.1M475.7 1337.9 L479.8 1337.9 L484.0 1342.0 L484.0 1350.1 L479.8 1354.1 L475.7 1354.1 L471.5 1350.1 L471.5 1342.0ZM484.0 1350.1 L488.1 1354.1M521.4 1337.9 L521.4 1350.1 L525.5 1354.1 L529.7 1354.1 L538.0 1346.0M538.0 1337.9 L538.0 1354.1M554.6 1329.9 L554.6 1350.1 L558.8 1354.1 L562.9 1350.1M546.3 1337.9 L562.9 1337.9M571.2 1354.1 L571.2 1337.9M571.2 1333.9 L571.2 1329.9M579.5 1329.9 L579.5 1350.1 L583.7 1354.1M592.0 1354.1 L592.0 1337.9M592.0 1333.9 L592.0 1329.9M600.3 1337.9 L616.9 1337.9 L600.3 1354.1 L616.9 1354.1M629.4 1337.9 L633.6 1337.9 L637.7 1342.0 L637.7 1350.1 L633.6 1354.1 L629.4 1354.1 L625.2 1350.1 L625.2 1342.0ZM637.7 1350.1 L641.9 1354.1M666.8 1337.9 L654.3 1337.9 L650.2 1342.0 L650.2 1350.1 L654.3 1354.1 L666.8 1354.1M675.1 1354.1 L675.1 1337.9M675.1 1333.9 L675.1 1329.9M687.6 1354.1 L695.9 1354.1 L700.0 1350.1 L700.0 1342.0 L695.9 1337.9 L687.6 1337.9 L683.4 1342.0 L683.4 1350.1ZM689.2 1333.9 L695.9 1329.1M708.4 1354.1 L708.4 1337.9M708.4 1346.0 L716.7 1337.9 L720.8 1337.9 L725.0 1342.0 L725.0 1354.1M774.8 1329.9 L774.8 1354.1M774.8 1350.1 L770.7 1354.1 L762.4 1354.1 L758.2 1350.1 L758.2 1342.0 L762.4 1337.9 L770.7 1337.9 L774.8 1342.0M783.1 1346.0 L795.6 1346.0 L799.8 1342.0 L795.6 1337.9 L787.3 1337.9 L783.1 1342.0 L783.1 1350.1 L787.3 1354.1 L796.9 1354.1M833.0 1346.0 L845.5 1346.0 L849.6 1342.0 L845.5 1337.9 L837.2 1337.9 L833.0 1342.0 L833.0 1350.1 L837.2 1354.1 L846.7 1354.1M874.5 1337.9 L862.1 1337.9 L857.9 1342.0 L862.1 1346.0 L870.4 1346.0 L874.5 1350.1 L870.4 1354.1 L857.9 1354.1M891.2 1329.9 L891.2 1350.1 L895.3 1354.1 L899.5 1350.1M882.9 1337.9 L899.5 1337.9M907.8 1346.0 L920.3 1346.0 L924.4 1342.0 L920.3 1337.9 L911.9 1337.9 L907.8 1342.0 L907.8 1350.1 L911.9 1354.1 L921.5 1354.1M957.6 1354.1 L957.6 1337.9M957.6 1346.0 L966.0 1337.9 L970.1 1337.9 L974.3 1342.0M982.6 1346.0 L995.0 1346.0 L999.2 1342.0 L995.0 1337.9 L986.7 1337.9 L982.6 1342.0 L982.6 1350.1 L986.7 1354.1 L996.3 1354.1M1007.5 1354.1 L1007.5 1337.9 L1011.7 1337.9 L1015.8 1342.0 L1015.8 1346.0M1015.8 1342.0 L1020.0 1337.9 L1024.1 1342.0 L1024.1 1354.1M1036.6 1337.9 L1040.8 1337.9 L1044.9 1342.0 L1044.9 1350.1 L1040.8 1354.1 L1036.6 1354.1 L1032.4 1350.1 L1032.4 1342.0ZM1044.9 1350.1 L1049.1 1354.1M1074.0 1337.9 L1061.5 1337.9 L1057.4 1342.0 L1057.4 1350.1 L1061.5 1354.1 L1074.0 1354.1M1082.3 1354.1 L1082.3 1329.9M1082.3 1346.0 L1090.6 1337.9 L1094.8 1337.9 L1098.9 1342.0 L1098.9 1354.1M1107.2 1346.0 L1119.7 1346.0 L1123.8 1342.0 L1119.7 1337.9 L1111.4 1337.9 L1107.2 1342.0 L1107.2 1350.1 L1111.4 1354.1 L1120.9 1354.1M1173.7 1337.9 L1161.2 1337.9 L1157.1 1342.0 L1161.2 1346.0 L1169.6 1346.0 L1173.7 1350.1 L1169.6 1354.1 L1157.1 1354.1M1182.0 1346.0 L1194.5 1346.0 L1198.6 1342.0 L1194.5 1337.9 L1186.2 1337.9 L1182.0 1342.0 L1182.0 1350.1 L1186.2 1354.1 L1195.7 1354.1M1231.9 1346.0 L1244.3 1346.0 L1248.5 1342.0 L1244.3 1337.9 L1236.0 1337.9 L1231.9 1342.0 L1231.9 1350.1 L1236.0 1354.1 L1245.6 1354.1M1256.8 1329.9 L1256.8 1350.1 L1261.0 1354.1M1269.3 1354.1 L1269.3 1337.9M1269.3 1333.9 L1269.3 1329.9M1277.6 1354.1 L1277.6 1337.9 L1281.7 1337.9 L1285.9 1342.0 L1285.9 1346.0M1285.9 1342.0 L1290.1 1337.9 L1294.2 1342.0 L1294.2 1354.1M1302.5 1354.1 L1302.5 1337.9M1302.5 1333.9 L1302.5 1329.9M1310.8 1354.1 L1310.8 1337.9M1310.8 1346.0 L1319.1 1337.9 L1323.3 1337.9 L1327.4 1342.0 L1327.4 1354.1M1339.9 1337.9 L1344.1 1337.9 L1348.2 1342.0 L1348.2 1350.1 L1344.1 1354.1 L1339.9 1354.1 L1335.8 1350.1 L1335.8 1342.0ZM1348.2 1350.1 L1352.4 1354.1M1385.6 1346.0 L1398.1 1346.0 L1402.2 1342.0 L1398.1 1337.9 L1389.8 1337.9 L1385.6 1342.0 L1385.6 1350.1 L1389.8 1354.1 L1399.3 1354.1M1410.5 1329.9 L1410.5 1350.1 L1414.7 1354.1M1447.9 1337.9 L1456.2 1354.1 L1464.6 1337.9M1477.0 1337.9 L1481.2 1337.9 L1485.3 1342.0 L1485.3 1350.1 L1481.2 1354.1 L1477.0 1354.1 L1472.9 1350.1 L1472.9 1342.0ZM1485.3 1350.1 L1489.5 1354.1M1478.7 1333.9 L1485.3 1329.1M1514.4 1337.9 L1502.0 1337.9 L1497.8 1342.0 L1502.0 1346.0 L1510.3 1346.0 L1514.4 1350.1 L1510.3 1354.1 L1497.8 1354.1M1531.0 1329.9 L1531.0 1350.1 L1535.2 1354.1 L1539.3 1350.1M1522.7 1337.9 L1539.3 1337.9M1551.8 1337.9 L1556.0 1337.9 L1560.1 1342.0 L1560.1 1350.1 L1556.0 1354.1 L1551.8 1354.1 L1547.7 1350.1 L1547.7 1342.0ZM1560.1 1350.1 L1564.3 1354.1M1589.2 1342.0 L1585.1 1337.9 L1576.7 1337.9 L1572.6 1342.0 L1572.6 1350.1 L1576.7 1354.1 L1589.2 1354.1M1589.2 1342.0 L1589.2 1358.1 L1585.1 1362.2 L1576.7 1362.2 L1572.6 1358.1M1601.7 1354.1 L1610.0 1354.1 L1614.1 1350.1 L1614.1 1342.0 L1610.0 1337.9 L1601.7 1337.9 L1597.5 1342.0 L1597.5 1350.1Z" stroke-width="2.80"/>
<path d="M334.4 1378.4 L342.7 1394.6M351.0 1378.4 L338.6 1402.7 L334.4 1402.7M400.9 1378.4 L388.4 1378.4 L384.3 1382.5 L388.4 1386.5 L396.7 1386.5 L400.9 1390.6 L396.7 1394.6 L384.3 1394.6M409.2 1386.5 L421.7 1386.5 L425.8 1382.5 L421.7 1378.4 L413.3 1378.4 L409.2 1382.5 L409.2 1390.6 L413.3 1394.6 L422.9 1394.6M459.0 1394.6 L459.0 1378.4M459.0 1374.4 L459.0 1370.4M467.4 1394.6 L467.4 1378.4M467.4 1386.5 L475.7 1378.4 L479.8 1378.4 L484.0 1382.5 L484.0 1394.6M500.6 1370.4 L500.6 1390.6 L504.8 1394.6 L508.9 1390.6M492.3 1378.4 L508.9 1378.4M517.2 1394.6 L517.2 1378.4M517.2 1386.5 L525.5 1378.4 L529.7 1378.4 L533.8 1382.5M546.3 1394.6 L554.6 1394.6 L558.8 1390.6 L558.8 1382.5 L554.6 1378.4 L546.3 1378.4 L542.1 1382.5 L542.1 1390.6ZM583.7 1370.4 L583.7 1394.6M583.7 1390.6 L579.5 1394.6 L571.2 1394.6 L567.1 1390.6 L567.1 1382.5 L571.2 1378.4 L579.5 1378.4 L583.7 1382.5M592.0 1378.4 L592.0 1390.6 L596.2 1394.6 L600.3 1394.6 L608.6 1386.5M608.6 1378.4 L608.6 1394.6M633.6 1378.4 L621.1 1378.4 L616.9 1382.5 L616.9 1390.6 L621.1 1394.6 L633.6 1394.6M641.9 1386.5 L654.3 1386.5 L658.5 1382.5 L654.3 1378.4 L646.0 1378.4 L641.9 1382.5 L641.9 1390.6 L646.0 1394.6 L655.6 1394.6M691.7 1386.5 L704.2 1386.5 L708.4 1382.5 L704.2 1378.4 L695.9 1378.4 L691.7 1382.5 L691.7 1390.6 L695.9 1394.6 L705.4 1394.6M716.7 1370.4 L716.7 1390.6 L720.8 1394.6M770.7 1378.4 L758.2 1378.4 L754.1 1382.5 L754.1 1390.6 L758.2 1394.6 L770.7 1394.6M779.0 1378.4 L779.0 1390.6 L783.1 1394.6 L787.3 1394.6 L795.6 1386.5M795.6 1378.4 L795.6 1394.6M803.9 1386.5 L816.4 1386.5 L820.5 1382.5 L816.4 1378.4 L808.1 1378.4 L803.9 1382.5 L803.9 1390.6 L808.1 1394.6 L817.6 1394.6M828.8 1394.6 L828.8 1378.4M828.8 1386.5 L837.2 1378.4 L841.3 1378.4 L845.5 1382.5M853.8 1402.7 L853.8 1378.4 L866.2 1378.4 L870.4 1382.5 L870.4 1390.6 L866.2 1394.6 L853.8 1394.6M882.9 1394.6 L891.2 1394.6 L895.3 1390.6 L895.3 1382.5 L891.2 1378.4 L882.9 1378.4 L878.7 1382.5 L878.7 1390.6ZM945.2 1370.4 L945.2 1394.6M945.2 1390.6 L941.0 1394.6 L932.7 1394.6 L928.6 1390.6 L928.6 1382.5 L932.7 1378.4 L941.0 1378.4 L945.2 1382.5M953.5 1386.5 L966.0 1386.5 L970.1 1382.5 L966.0 1378.4 L957.6 1378.4 L953.5 1382.5 L953.5 1390.6 L957.6 1394.6 L967.2 1394.6M978.4 1394.6 L978.4 1378.4M978.4 1386.5 L986.7 1378.4 L990.9 1378.4 L995.0 1382.5 L995.0 1394.6M1011.7 1370.4 L1011.7 1390.6 L1015.8 1394.6 L1020.0 1390.6M1003.4 1378.4 L1020.0 1378.4M1028.3 1394.6 L1028.3 1378.4M1028.3 1386.5 L1036.6 1378.4 L1040.8 1378.4 L1044.9 1382.5M1057.4 1394.6 L1065.7 1394.6 L1069.8 1390.6 L1069.8 1382.5 L1065.7 1378.4 L1057.4 1378.4 L1053.2 1382.5 L1053.2 1390.6ZM1119.7 1370.4 L1119.7 1394.6M1119.7 1390.6 L1115.5 1394.6 L1107.2 1394.6 L1103.1 1390.6 L1103.1 1382.5 L1107.2 1378.4 L1115.5 1378.4 L1119.7 1382.5M1128.0 1386.5 L1140.5 1386.5 L1144.6 1382.5 L1140.5 1378.4 L1132.2 1378.4 L1128.0 1382.5 L1128.0 1390.6 L1132.2 1394.6 L1141.7 1394.6M1177.9 1370.4 L1177.9 1390.6 L1182.0 1394.6M1194.5 1378.4 L1198.6 1378.4 L1202.8 1382.5 L1202.8 1390.6 L1198.6 1394.6 L1194.5 1394.6 L1190.3 1390.6 L1190.3 1382.5ZM1202.8 1390.6 L1207.0 1394.6M1240.2 1370.4 L1240.2 1390.6 L1244.3 1394.6M1252.7 1394.6 L1252.7 1378.4M1252.7 1374.4 L1252.7 1370.4M1277.6 1382.5 L1273.4 1378.4 L1265.1 1378.4 L1261.0 1382.5 L1261.0 1390.6 L1265.1 1394.6 L1277.6 1394.6M1277.6 1382.5 L1277.6 1398.6 L1273.4 1402.7 L1265.1 1402.7 L1261.0 1398.6M1290.1 1378.4 L1294.2 1378.4 L1298.4 1382.5 L1298.4 1390.6 L1294.2 1394.6 L1290.1 1394.6 L1285.9 1390.6 L1285.9 1382.5ZM1298.4 1390.6 L1302.5 1394.6M1335.8 1378.4 L1344.1 1394.6M1352.4 1378.4 L1339.9 1402.7 L1335.8 1402.7M1385.6 1370.4 L1385.6 1390.6 L1389.8 1394.6M1402.2 1394.6 L1410.5 1394.6 L1414.7 1390.6 L1414.7 1382.5 L1410.5 1378.4 L1402.2 1378.4 L1398.1 1382.5 L1398.1 1390.6ZM1439.6 1378.4 L1427.2 1378.4 L1423.0 1382.5 L1427.2 1386.5 L1435.5 1386.5 L1439.6 1390.6 L1435.5 1394.6 L1423.0 1394.6M1477.0 1378.4 L1481.2 1378.4 L1485.3 1382.5 L1485.3 1390.6 L1481.2 1394.6 L1477.0 1394.6 L1472.9 1390.6 L1472.9 1382.5ZM1485.3 1390.6 L1489.5 1394.6M1514.4 1382.5 L1510.3 1378.4 L1502.0 1378.4 L1497.8 1382.5 L1497.8 1390.6 L1502.0 1394.6 L1514.4 1394.6M1514.4 1382.5 L1514.4 1398.6 L1510.3 1402.7 L1502.0 1402.7 L1497.8 1398.6M1522.7 1378.4 L1522.7 1390.6 L1526.9 1394.6 L1531.0 1394.6 L1539.3 1386.5M1539.3 1378.4 L1539.3 1394.6M1560.1 1378.4 L1560.1 1398.6 L1556.0 1402.7 L1554.3 1402.7 L1547.7 1398.6M1560.1 1374.4 L1560.1 1370.4M1568.4 1386.5 L1580.9 1386.5 L1585.1 1382.5 L1580.9 1378.4 L1572.6 1378.4 L1568.4 1382.5 L1568.4 1390.6 L1572.6 1394.6 L1582.1 1394.6M1593.4 1394.6 L1593.4 1378.4M1593.4 1386.5 L1601.7 1378.4 L1605.8 1378.4 L1610.0 1382.5M1622.5 1394.6 L1630.8 1394.6 L1634.9 1390.6 L1634.9 1382.5 L1630.8 1378.4 L1622.5 1378.4 L1618.3 1382.5 L1618.3 1390.6ZM1659.8 1378.4 L1647.4 1378.4 L1643.2 1382.5 L1647.4 1386.5 L1655.7 1386.5 L1659.8 1390.6 L1655.7 1394.6 L1643.2 1394.6M1709.7 1370.4 L1709.7 1394.6M1709.7 1390.6 L1705.6 1394.6 L1697.2 1394.6 L1693.1 1390.6 L1693.1 1382.5 L1697.2 1378.4 L1705.6 1378.4 L1709.7 1382.5M1718.0 1386.5 L1730.5 1386.5 L1734.6 1382.5 L1730.5 1378.4 L1722.2 1378.4 L1718.0 1382.5 L1718.0 1390.6 L1722.2 1394.6 L1731.7 1394.6" stroke-width="2.80"/>
<path d="M334.4 1410.8 L334.4 1431.0 L338.6 1435.0M351.0 1418.8 L355.2 1418.8 L359.3 1422.9 L359.3 1431.0 L355.2 1435.0 L351.0 1435.0 L346.9 1431.0 L346.9 1422.9ZM359.3 1431.0 L363.5 1435.0M396.7 1443.1 L396.7 1418.8 L409.2 1418.8 L413.3 1422.9 L413.3 1431.0 L409.2 1435.0 L396.7 1435.0M421.7 1435.0 L421.7 1418.8M421.7 1414.8 L421.7 1410.8M430.0 1426.9 L442.4 1426.9 L446.6 1422.9 L442.4 1418.8 L434.1 1418.8 L430.0 1422.9 L430.0 1431.0 L434.1 1435.0 L443.7 1435.0M454.9 1418.8 L471.5 1418.8 L454.9 1435.0 L471.5 1435.0M484.0 1418.8 L488.1 1418.8 L492.3 1422.9 L492.3 1431.0 L488.1 1435.0 L484.0 1435.0 L479.8 1431.0 L479.8 1422.9ZM492.3 1431.0 L496.4 1435.0M529.7 1435.0 L529.7 1418.8 L533.8 1418.8 L538.0 1422.9 L538.0 1426.9M538.0 1422.9 L542.1 1418.8 L546.3 1422.9 L546.3 1435.0M554.6 1426.9 L567.1 1426.9 L571.2 1422.9 L567.1 1418.8 L558.8 1418.8 L554.6 1422.9 L554.6 1431.0 L558.8 1435.0 L568.3 1435.0M587.9 1410.8 L587.9 1431.0 L592.0 1435.0 L596.2 1431.0M579.5 1418.8 L596.2 1418.8M608.6 1418.8 L612.8 1418.8 L616.9 1422.9 L616.9 1431.0 L612.8 1435.0 L608.6 1435.0 L604.5 1431.0 L604.5 1422.9ZM616.9 1431.0 L621.1 1435.0M610.3 1414.8 L616.9 1410.0M629.4 1410.8 L629.4 1431.0 L633.6 1435.0M641.9 1435.0 L641.9 1418.8M641.9 1414.8 L641.9 1410.8M666.8 1418.8 L654.3 1418.8 L650.2 1422.9 L650.2 1431.0 L654.3 1435.0 L666.8 1435.0M679.3 1418.8 L683.4 1418.8 L687.6 1422.9 L687.6 1431.0 L683.4 1435.0 L679.3 1435.0 L675.1 1431.0 L675.1 1422.9ZM687.6 1431.0 L691.7 1435.0M700.0 1435.0 L700.0 1431.4" stroke-width="2.80"/>
<path d="M1176.8 1313.6 L1192.4 1298.2M1176.8 1298.2 L1192.4 1313.6" stroke-width="2.80"/>
<path d="M1091.3 1282.4 L1078.5 1282.4 L1078.5 1288.3 L1088.1 1288.3 L1091.3 1291.3 L1091.3 1297.3 L1088.1 1300.3 L1081.7 1300.3 L1078.5 1297.3" stroke-width="2.70"/>
<path d="M1097.7 1305.6 L1100.9 1302.6 L1107.3 1302.6 L1110.5 1305.6 L1110.5 1308.5 L1107.3 1311.5 L1102.5 1311.5M1107.3 1311.5 L1110.5 1314.5 L1110.5 1317.5 L1107.3 1320.5 L1100.9 1320.5 L1097.7 1317.5M1116.9 1305.6 L1120.1 1302.6 L1126.5 1302.6 L1129.7 1305.6 L1129.7 1308.5 L1126.5 1311.5 L1120.1 1311.5 L1116.9 1314.5 L1116.9 1320.5 L1129.7 1320.5" stroke-width="2.70"/>
<path d="M1083.2 1316.8 L1105.3 1285.6" stroke-width="2.70" />
<path d="M1139.4 1289.4 L1134.6 1297.6" stroke-width="3.00" />
<path d="M1143.8 1289.4 L1139.0 1297.6" stroke-width="3.00" />
<path d="M1226.1 1285.9 L1229.3 1282.9 L1235.7 1282.9 L1238.9 1285.9 L1238.9 1288.8 L1235.7 1291.8 L1230.9 1291.8M1235.7 1291.8 L1238.9 1294.8 L1238.9 1297.8 L1235.7 1300.8 L1229.3 1300.8 L1226.1 1297.8" stroke-width="2.70"/>
<path d="M1247.9 1311.5 L1244.7 1308.5 L1244.7 1305.6 L1247.9 1302.6 L1254.3 1302.6 L1257.5 1305.6 L1257.5 1308.5 L1254.3 1311.5 L1247.9 1311.5 L1244.7 1314.5 L1244.7 1317.5 L1247.9 1320.5 L1254.3 1320.5 L1257.5 1317.5 L1257.5 1314.5 L1254.3 1311.5" stroke-width="2.70"/>
<path d="M1230.7 1316.8 L1253.4 1285.6" stroke-width="2.70" />
<path d="M1267.6 1289.4 L1262.8 1297.6" stroke-width="3.00" />
<path d="M1272.0 1289.4 L1267.2 1297.6" stroke-width="3.00" />
<path d="M1512.2 788.4 L1512.2 780.7 L1508.4 776.8 L1500.6 776.8 L1496.8 780.7 L1496.8 788.4 L1500.6 792.3 L1508.4 792.3 L1512.2 788.4" stroke-width="2.70" />
<path d="M1517.3 789.6 L1492.5 778.4" stroke-width="2.70" />
<path d="M1484.4 769.5 L1481.3 766.8 L1498.7 766.8" stroke-width="2.70" />
<path d="M1498.7 769.5 L1498.7 764.0" stroke-width="2.70" />
<path d="M1514.6 769.5 L1483.4 748.6" stroke-width="2.70" />
<path d="M1517.8 747.4 L1498.5 747.4 L1510.5 758.1 L1510.5 743.5" stroke-width="2.70" />
<path d="M1493.7 730.8 L1500.6 734.2" stroke-width="3.00" />
<path d="M1493.7 735.0 L1500.6 738.5" stroke-width="3.00" />
</svg>
</body></html>
